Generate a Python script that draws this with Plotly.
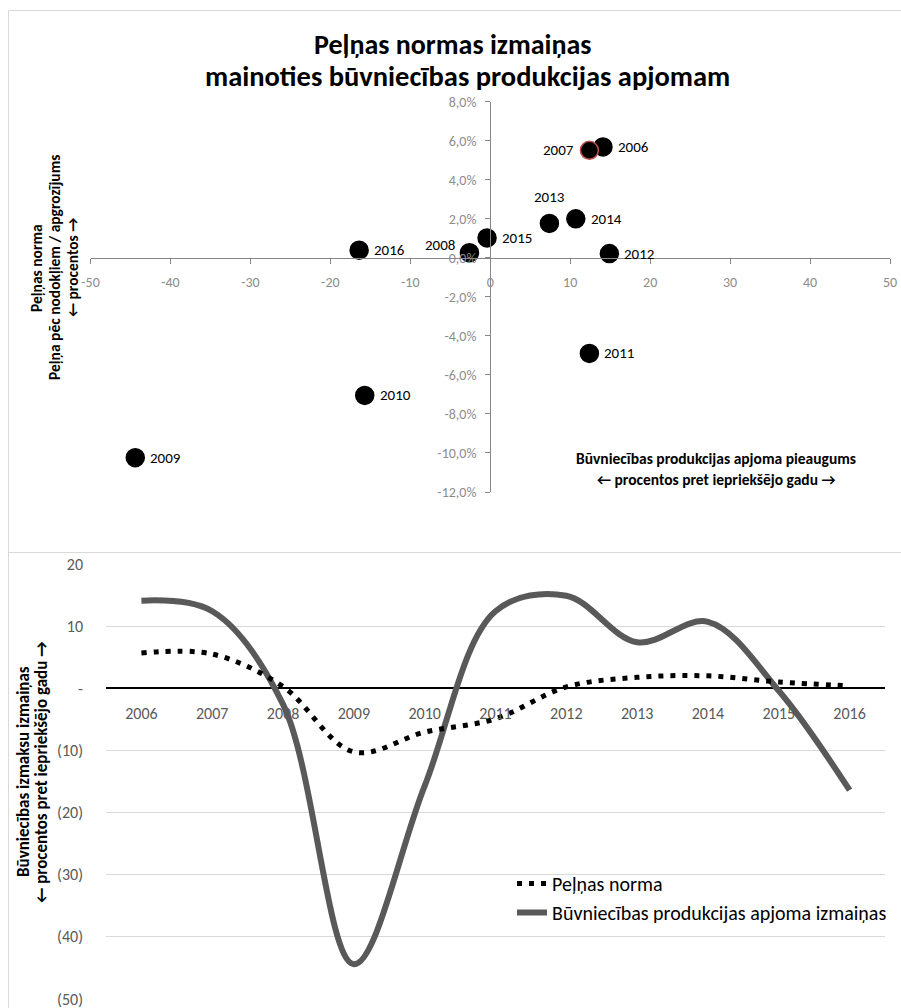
import plotly.graph_objects as go

# ---------------- data ----------------
years = [2006, 2007, 2008, 2009, 2010, 2011, 2012, 2013, 2014, 2015, 2016]
volume_change = [14.1, 12.4, -2.6, -44.4, -15.7, 12.4, 14.9, 7.4, 10.7, -0.4, -16.4]
profit_margin = [5.68, 5.51, 0.26, -10.24, -7.05, -4.9, 0.22, 1.76, 2.0, 1.02, 0.39]

scatter_x_ticks = [-50, -40, -30, -20, -10, 0, 10, 20, 30, 40, 50]
scatter_x_ticktext = ["-50", "-40", "-30", "-20", "-10", "0", "10", "20", "30", "40", "50"]
scatter_y_ticks = [-12, -10, -8, -6, -4, -2, 0, 2, 4, 6, 8]
scatter_y_ticktext = ["-12,0%", "-10,0%", "-8,0%", "-6,0%", "-4,0%", "-2,0%", "0,0%",
                      "2,0%", "4,0%", "6,0%", "8,0%"]
line_y_ticks = [-50, -40, -30, -20, -10, 0, 10, 20]
line_y_ticktext = ["(50)", "(40)", "(30)", "(20)", "(10)", "-", "10", "20"]

title_lines = ["Peļņas normas izmaiņas", "mainoties būvniecības produkcijas apjomam"]
scatter_ytitle = ["Peļņas norma", "Peļņa pēc nodokļiem / apgrozījums", "← procentos →"]
scatter_xtitle = ["Būvniecības produkcijas apjoma pieaugums", "← procentos pret iepriekšējo gadu →"]
line_ytitle = ["Būvniecības izmaksu izmaiņas", "← procentos pret iepriekšējo gadu →"]
name_margin = "Peļņas norma"
name_volume = "Būvniecības produkcijas apjoma izmaiņas"

# ---------------- layout helpers ----------------
W, H = 901, 1008
FONT = "Carlito, Lato, sans-serif"


def px(x):
    return x / W


def py(y):
    return 1 - y / H


sx_dom = [px(90.5), px(890)]
sy_dom = [py(492), py(101.7)]
sx_rng = [-50, 50]
sy_rng = [-12, 8]
sx_zero = sx_dom[0] + (0 - sx_rng[0]) / (sx_rng[1] - sx_rng[0]) * (sx_dom[1] - sx_dom[0])
sy_zero = sy_dom[0] + (0 - sy_rng[0]) / (sy_rng[1] - sy_rng[0]) * (sy_dom[1] - sy_dom[0])

lx_dom = [px(106), px(885)]
ly_dom = [py(999), py(564)]
ly_rng = [-50, 20]
ly_zero = ly_dom[0] + (0 - ly_rng[0]) / (ly_rng[1] - ly_rng[0]) * (ly_dom[1] - ly_dom[0])

highlight_year = 2007
label_place = {
    2007: dict(xanchor="right", yanchor="middle", xshift=-13, yshift=0),
    2008: dict(xanchor="right", yanchor="middle", xshift=-12, yshift=8),
    2013: dict(xanchor="center", yanchor="bottom", xshift=0, yshift=15),
}
default_place = dict(xanchor="left", yanchor="middle", xshift=13, yshift=0)

fig = go.Figure()

fig.add_trace(go.Scatter(
    x=volume_change, y=profit_margin, mode="markers",
    marker=dict(size=18, color="black",
                line=dict(color=["#c0504d" if yr == highlight_year else "black" for yr in years],
                          width=1.5)),
    xaxis="x", yaxis="y", showlegend=False, hoverinfo="skip",
))

fig.add_trace(go.Scatter(
    x=years, y=volume_change, mode="lines", name=name_volume,
    line=dict(color="#595959", width=6, shape="spline", smoothing=1.0),
    xaxis="x2", yaxis="y2", legendrank=2,
))
fig.add_trace(go.Scatter(
    x=years, y=profit_margin, mode="lines", name=name_margin,
    line=dict(color="black", width=5, shape="spline", smoothing=1.0, dash="5px,7px"),
    xaxis="x2", yaxis="y2", legendrank=1,
))

annotations = []
for yr, xv, yv in zip(years, volume_change, profit_margin):
    pl = label_place.get(yr, default_place)
    annotations.append(dict(x=xv, y=yv, xref="x", yref="y", text=str(yr), showarrow=False,
                            font=dict(family=FONT, size=15, color="black"), **pl))


def add_text(x, y, text, size, angle=0, bold=True):
    annotations.append(dict(x=px(x), y=py(y), xref="paper", yref="paper", showarrow=False,
                            text=("<b>%s</b>" % text) if bold else text, textangle=angle,
                            font=dict(family=FONT, size=size, color="black"),
                            xanchor="center", yanchor="middle"))


add_text(452, 45, title_lines[0], 28)
add_text(467, 77, title_lines[1], 28.5)
for i, t in enumerate(scatter_ytitle):
    add_text(37 + 18 * i, 268, t, 15.5, angle=-90)
add_text(716, 459, scatter_xtitle[0], 15.5)
add_text(716, 479, scatter_xtitle[1], 15.5)
for i, t in enumerate(line_ytitle):
    add_text(23 + 18 * i, 772, t, 17, angle=-90)

border = "#d9d9d9"
shapes = [
    dict(type="line", xref="paper", yref="paper", x0=px(8.5), x1=1, y0=py(10.5), y1=py(10.5),
         line=dict(color=border, width=1)),
    dict(type="line", xref="paper", yref="paper", x0=px(8.5), x1=px(8.5), y0=py(10.5), y1=0,
         line=dict(color=border, width=1)),
    dict(type="line", xref="paper", yref="paper", x0=px(8.5), x1=1, y0=py(552.5), y1=py(552.5),
         line=dict(color=border, width=1)),
]

tick_gray = "#8c8c8c"
axis_gray = "#868686"

fig.update_layout(
    width=W, height=H,
    margin=dict(l=0, r=0, t=0, b=0, pad=0, autoexpand=False),
    paper_bgcolor="white", plot_bgcolor="rgba(0,0,0,0)",
    font=dict(family=FONT),
    annotations=annotations,
    shapes=shapes,
    showlegend=True,
    legend=dict(x=px(512), y=py(864), xanchor="left", yanchor="top",
                bgcolor="rgba(0,0,0,0)", font=dict(family=FONT, size=20, color="black"),
                itemwidth=30, tracegroupgap=0),
    xaxis=dict(domain=sx_dom, range=sx_rng, anchor="free", position=sy_zero,
               tickvals=scatter_x_ticks, ticktext=scatter_x_ticktext,
               showgrid=False, zeroline=False, showline=True, linecolor=axis_gray, linewidth=1,
               ticks="outside", ticklen=5, tickcolor=axis_gray, automargin=False,
               ticklabelstandoff=6, ticklabeloverflow="allow",
               tickfont=dict(family=FONT, size=14, color=tick_gray)),
    yaxis=dict(domain=sy_dom, range=sy_rng, anchor="free", position=sx_zero,
               tickvals=scatter_y_ticks, ticktext=scatter_y_ticktext,
               showgrid=False, zeroline=False, showline=True, linecolor=axis_gray, linewidth=1,
               ticks="outside", ticklen=5, tickcolor=axis_gray, automargin=False,
               ticklabelstandoff=6, ticklabeloverflow="allow",
               tickfont=dict(family=FONT, size=14, color=tick_gray)),
    xaxis2=dict(domain=lx_dom, range=[2005.5, 2016.5], anchor="free", position=ly_zero,
                tickvals=years, ticktext=[str(y) for y in years],
                showgrid=False, zeroline=False, showline=False, ticks="", automargin=False,
                ticklabelstandoff=14, ticklabeloverflow="allow",
                tickfont=dict(family=FONT, size=16, color="#595959")),
    yaxis2=dict(domain=ly_dom, range=ly_rng, anchor="x2",
                tickvals=line_y_ticks, ticktext=line_y_ticktext,
                showgrid=True, gridcolor="#d9d9d9", gridwidth=1,
                zeroline=True, zerolinecolor="black", zerolinewidth=1.5,
                showline=False, ticks="", ticklabelstandoff=22, automargin=False,
                ticklabeloverflow="allow",
                tickfont=dict(family=FONT, size=16, color="#595959")),
)

fig.write_html("out.html", config={"displayModeBar": False},
               post_script="document.body.style.margin='0';document.body.style.overflow='hidden';")
